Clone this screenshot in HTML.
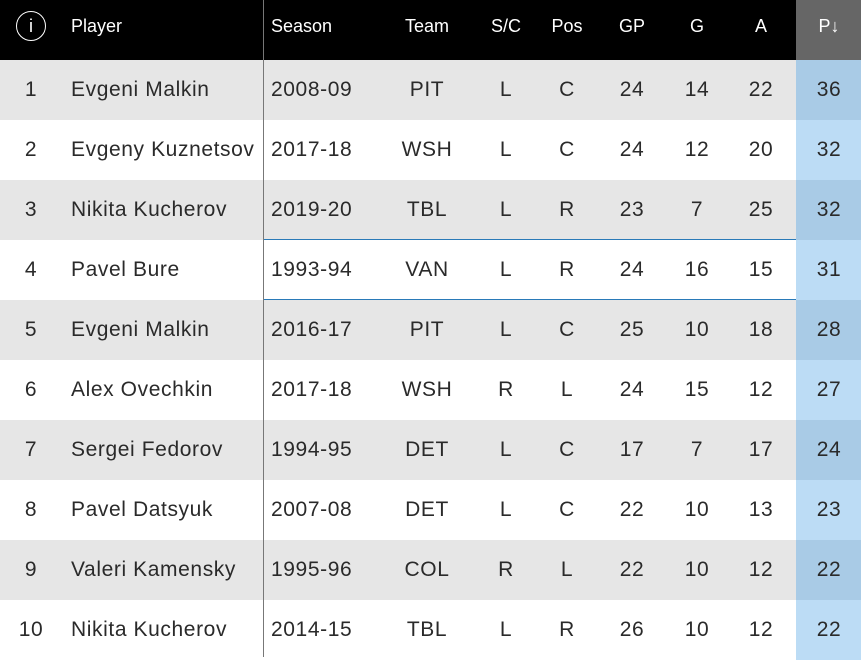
<!DOCTYPE html>
<html><head><style>
body{margin:0;width:861px;height:657px;overflow:hidden;background:#fff;font-family:"Liberation Sans",sans-serif}
.r{position:absolute;left:0;width:861px;height:60px}
.c{position:absolute;top:0;height:60px;line-height:60px;white-space:nowrap}
.h .c{color:#fff;font-size:18px;line-height:52px}
.b .c{color:#2a2a2a;font-size:21px;letter-spacing:0.6px}
.ctr{transform:translateX(-50%)}
</style></head><body>
<div class="r h" style="top:0;background:#000">
<div class="c" style="left:16px;top:11px;width:28px;height:28px;border:1.5px solid #fff;border-radius:50%;line-height:28px;text-align:center;font-size:18px">i</div>
<div class="c" style="left:71px">Player</div>
<div class="c" style="left:271px">Season</div>
<div class="c ctr" style="left:427px">Team</div>
<div class="c ctr" style="left:506px">S/C</div>
<div class="c ctr" style="left:567px">Pos</div>
<div class="c ctr" style="left:632px">GP</div>
<div class="c ctr" style="left:697px">G</div>
<div class="c ctr" style="left:761px">A</div>
<div style="position:absolute;left:796px;top:0;width:65px;height:60px;background:#666"></div>
<div class="c ctr" style="left:829px">P↓</div>
</div>
<div id="rows"></div>
<div style="position:absolute;left:263px;top:0;width:1px;height:657px;background:#777"></div>
<div style="position:absolute;left:264px;top:239px;width:532px;height:1px;background:#2a7ab8"></div>
<div style="position:absolute;left:264px;top:299px;width:532px;height:1px;background:#2a7ab8"></div>
<script>
var d=[[1,"Evgeni Malkin","2008-09","PIT","L","C",24,14,22,36],
[2,"Evgeny Kuznetsov","2017-18","WSH","L","C",24,12,20,32],
[3,"Nikita Kucherov","2019-20","TBL","L","R",23,7,25,32],
[4,"Pavel Bure","1993-94","VAN","L","R",24,16,15,31],
[5,"Evgeni Malkin","2016-17","PIT","L","C",25,10,18,28],
[6,"Alex Ovechkin","2017-18","WSH","R","L",24,15,12,27],
[7,"Sergei Fedorov","1994-95","DET","L","C",17,7,17,24],
[8,"Pavel Datsyuk","2007-08","DET","L","C",22,10,13,23],
[9,"Valeri Kamensky","1995-96","COL","R","L",22,10,12,22],
[10,"Nikita Kucherov","2014-15","TBL","L","R",26,10,12,22]];
var h="";d.forEach(function(r,i){var g=i%2==0;
h+='<div class="r b" style="top:'+(60+i*60)+'px;background:'+(g?'#e6e6e6':'#fff')+'">'+
'<div style="position:absolute;left:796px;top:0;width:65px;height:60px;background:'+(g?'#a9cbe6':'#bcdcf5')+'"></div>'+
'<div class="c ctr" style="left:31px">'+r[0]+'</div>'+
'<div class="c" style="left:71px">'+r[1]+'</div>'+
'<div class="c" style="left:271px">'+r[2]+'</div>'+
'<div class="c ctr" style="left:427px">'+r[3]+'</div>'+
'<div class="c ctr" style="left:506px">'+r[4]+'</div>'+
'<div class="c ctr" style="left:567px">'+r[5]+'</div>'+
'<div class="c ctr" style="left:632px">'+r[6]+'</div>'+
'<div class="c ctr" style="left:697px">'+r[7]+'</div>'+
'<div class="c ctr" style="left:761px">'+r[8]+'</div>'+
'<div class="c ctr" style="left:829px">'+r[9]+'</div></div>';});
document.getElementById("rows").innerHTML=h;
</script>
</body></html>
